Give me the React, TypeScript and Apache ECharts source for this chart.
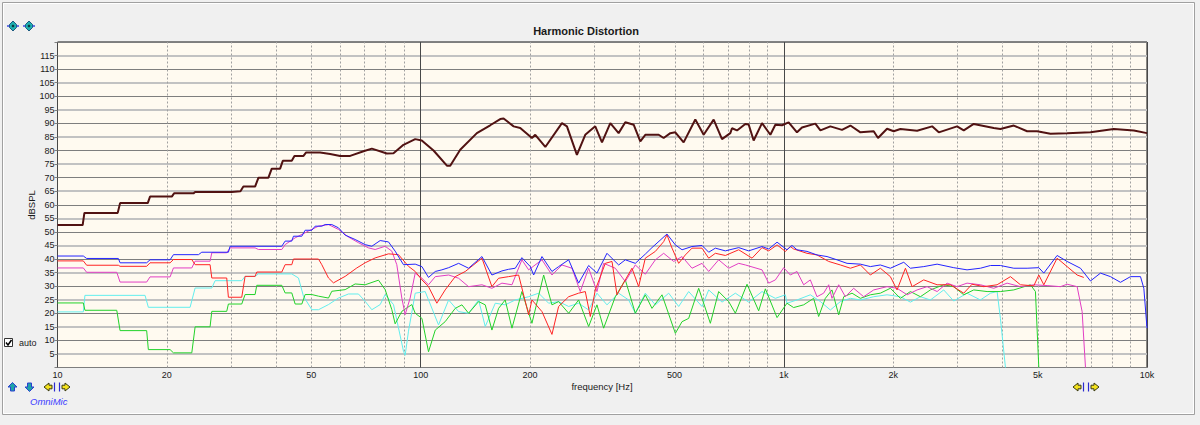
import React, { useEffect, useRef } from 'react';
import * as echarts from 'echarts';

const freqTicks = [10, 20, 50, 100, 200, 500, 1000, 2000, 5000, 10000];
const freqTickLabels = ['10', '20', '50', '100', '200', '500', '1k', '2k', '5k', '10k'];
const minorGridFreqs = [
  20, 30, 40, 50, 60, 70, 80, 90,
  200, 300, 400, 500, 600, 700, 800, 900,
  2000, 3000, 4000, 5000, 6000, 7000, 8000, 9000,
];

const fundamental: number[][] = [
  [10, 52.5], [11.73, 52.5], [11.86, 57], [14.65, 57], [14.87, 60.6], [17.72, 60.6], [17.98, 63], [20.64, 63],
  [20.94, 64.2], [23.68, 64.2], [23.93, 64.7], [30.19, 64.7], [31.9, 65], [32.5, 66.7], [35.0, 66.7], [35.76, 70],
  [38.09, 70], [38.9, 73.3], [41.02, 73.3], [41.72, 76.2], [44.17, 76.2], [44.92, 78], [47.57, 78], [48.38, 79.3],
  [52.87, 79.3], [56.33, 78.7], [60.02, 78], [63.95, 78], [69.6, 79.7], [73.38, 80.7], [80.69, 78.9], [84.17, 79],
  [89.68, 82.1], [96.58, 84.2], [100.7, 83.7], [108.5, 80], [118.1, 74.4], [120.6, 74.4], [128.5, 80.3], [142.8, 86.4],
  [155.4, 89.3], [165.6, 91.6], [169.2, 91.8], [180.3, 88.9], [188.0, 88.3], [202.5, 84.6], [206.8, 85.8], [220.4, 81.3],
  [244.9, 90.1], [252.8, 88.9], [269.3, 78.4], [283.9, 85.8], [302.5, 88.9], [315.7, 83], [332.8, 90.1], [350.8, 86.4],
  [366.0, 90.4], [385.9, 89.5], [402.5, 83.4], [415.5, 85.8], [452.2, 85.8], [466.7, 84.6], [486.9, 86.4], [502.6, 86.7],
  [529.8, 83], [570.5, 91.4], [601.5, 85.8], [640.9, 91.4], [675.7, 84.2], [712.3, 86.4], [719.9, 88.2], [743.1, 87.4],
  [783.4, 89.8], [800.1, 89.6], [825.9, 83.7], [870.8, 90.1], [918.1, 85.8], [947.7, 89.5], [988.6, 89.3], [1031, 90.4],
  [1087, 86.7], [1122, 88.5], [1221, 89.9], [1261, 87.4], [1343, 88.9], [1446, 87.6], [1525, 89.2], [1625, 86.7],
  [1768, 87.1], [1817, 84.6], [1924, 88], [2007, 87.1], [2094, 87.9], [2328, 87.3], [2560, 88.9], [2671, 86.7],
  [2999, 88.9], [3129, 87.4], [3334, 89.8], [3785, 88.3], [3948, 87.9], [4297, 89.2], [4676, 87.1], [4983, 87.1],
  [5423, 86.2], [6027, 86.4], [6988, 86.7], [8102, 87.9], [9198, 87.4], [10000, 86.4],
];

const harmonicBlue: number[][] = [
  [10, 41.1], [11.78, 41.1], [12.03, 40.2], [14.71, 40.2], [14.87, 38.6], [17.6, 38.6], [17.98, 39.7], [20.42, 39.7],
  [20.86, 41.6], [24.44, 41.6], [24.96, 42.5], [29.55, 42.5], [29.87, 44.7], [41.46, 44.7], [42.34, 46.6], [44.17, 46.6],
  [44.64, 48.4], [47.07, 48.4], [48.07, 50.6], [50.15, 50.6], [51.22, 52.1], [53.43, 52.1], [54.58, 52.7], [56.93, 52.7],
  [59.38, 51.5], [61.95, 48.8], [66.0, 47.2], [70.33, 45.3], [73.37, 44.7], [77.36, 46.8], [81.54, 46.3], [85.06, 42.9],
  [89.68, 37.9], [96.6, 38.1], [100.8, 37.2], [105.1, 33.2], [109.7, 35.4], [114.4, 36], [119.4, 36.8], [127.2, 38.4],
  [135.5, 36.6], [147.5, 40.9], [157.1, 34.1], [167.4, 35.6], [174.6, 36.2], [182.2, 36.6], [190.0, 40.5], [200.4, 37.2],
  [204.7, 34.1], [215.8, 40.9], [229.9, 35.4], [239.8, 37.2], [255.6, 39.7], [272.2, 31.1], [290.1, 37.6], [305.8, 34.8],
  [325.8, 42.1], [350.9, 37.8], [366.0, 39.7], [390.0, 38.4], [415.5, 41.8], [433.5, 44.2], [476.7, 49.2], [502.7, 45.2],
  [524.4, 43.4], [558.7, 44.6], [595.3, 45], [621.0, 42.5], [647.8, 44], [690.2, 43], [751.2, 44.2], [800.3, 43],
  [870.9, 44.6], [908.5, 43.7], [957.9, 46.2], [1020, 43.4], [1053, 45], [1087, 43.4], [1158, 42.8], [1234, 41.5],
  [1315, 40.9], [1401, 39.7], [1493, 38.4], [1625, 38.1], [1731, 37.2], [1844, 37.8], [1965, 36.6], [2139, 38.8],
  [2231, 36.6], [2428, 37.2], [2643, 38.1], [2937, 36.8], [3195, 36], [3478, 36.6], [3706, 37.6], [3948, 37.6],
  [4297, 36.6], [4676, 36.6], [5036, 36.8], [5198, 34.8], [5656, 41.3], [6027, 39.1], [6558, 36.6], [6988, 31.9],
  [7446, 34.8], [7933, 33.5], [8452, 31.4], [9005, 33.5], [9596, 33.5], [9801, 29.2], [10000, 14.5],
];

const harmonicRed: number[][] = [
  [10, 39.3], [11.78, 39.3], [12.03, 37.7], [14.71, 37.7], [14.87, 37.3], [17.6, 37.3], [17.98, 38.6], [20.42, 38.6],
  [20.86, 39.8], [23.43, 39.8], [23.93, 37.9], [26.31, 37.9], [26.6, 33.0], [29.24, 33.0], [29.55, 25.9], [32.16, 25.9],
  [32.85, 33.6], [35.0, 33.6], [35.38, 35.2], [41.46, 35.2], [42.34, 37.9], [44.17, 37.9], [44.64, 40.0], [52.31, 40.0],
  [53.43, 37.9], [55.74, 33.0], [57.53, 31.2], [61.95, 33.6], [66.71, 36.7], [70.33, 38.6], [74.94, 40.4], [81.54, 41.9],
  [86.88, 41.6], [92.57, 37.3], [96.6, 35.4], [100.8, 32.3], [105.1, 29.8], [110.8, 23.7], [116.8, 28.6], [124.5, 33.5],
  [132.7, 35.4], [147.5, 40.3], [157.1, 29.8], [163.9, 32.9], [174.6, 33.5], [186.1, 34.1], [198.3, 19.4], [202.5, 24.9],
  [215.8, 20.6], [229.9, 12.2], [239.8, 22.5], [255.6, 26.1], [272.2, 27.4], [284.0, 28], [293.2, 18.8], [302.6, 28.6],
  [322.4, 38.4], [336.4, 39.1], [347.2, 26.8], [366.0, 32.3], [381.8, 36.6], [398.3, 29.8], [415.5, 40.3], [442.8, 42.8],
  [466.8, 46.4], [476.7, 48.9], [492.2, 44], [513.4, 38.4], [535.6, 41.5], [558.7, 44], [595.3, 44], [621.0, 40.3],
  [647.8, 42.1], [690.2, 41.3], [751.2, 43.4], [817.4, 40.3], [870.9, 44.2], [908.5, 43], [957.9, 45.2], [1009.9, 42.8],
  [1042, 44.6], [1064, 43.7], [1158, 42.1], [1234, 41.5], [1329, 39.1], [1431, 37.8], [1525, 36.6], [1625, 37.8],
  [1731, 34.1], [1844, 36.6], [1965, 33.5], [2050, 28.6], [2162, 36.6], [2255, 29.8], [2428, 32.3], [2643, 30.5],
  [2875, 30.5], [3129, 27.4], [3298, 30.7], [3552, 29.8], [3866, 30.5], [4207, 33.5], [4483, 30.5], [4878, 30.1],
  [5036, 34.1], [5198, 30.5], [5656, 40.3], [6027, 37.2], [6421, 34.1], [6698, 33.2],
];

const harmonicMagenta: number[][] = [
  [10, 36.7], [11.78, 36.7], [12.03, 35.1], [14.56, 35.1], [14.87, 31.5], [17.6, 31.5], [17.98, 33.4], [20.42, 33.4],
  [20.86, 36.7], [23.43, 36.7], [23.93, 39.2], [26.31, 39.2], [26.6, 42.3], [29.24, 42.3], [29.87, 44.1], [35.0, 44.1],
  [35.75, 43.5], [41.46, 43.5], [42.34, 45.3], [45.12, 47.8], [49.1, 50.3], [52.31, 52.1], [55.74, 52.7], [59.38, 50.9],
  [63.27, 48.1], [67.41, 46.0], [71.84, 44.1], [74.94, 43.5], [79.84, 44.7], [83.29, 42.9], [85.96, 37.9], [88.74, 25.6],
  [90.63, 19.5], [93.55, 25.6], [96.6, 34.8], [100.8, 32.9], [105.1, 30.5], [109.7, 33.5], [119.4, 34.1], [127.2, 32.9],
  [135.5, 29.8], [147.5, 30.5], [157.1, 29.2], [167.4, 31.1], [178.4, 30.5], [190.0, 39.7], [198.3, 36], [215.8, 39.7],
  [229.9, 34.1], [245.0, 37.8], [261.0, 36.6], [275.1, 28], [290.1, 36.6], [305.8, 28], [319.0, 38.4], [343.5, 36.6],
  [366.0, 31.7], [390.0, 37.8], [415.5, 34.4], [442.8, 39.7], [466.8, 42.1], [497.4, 39.1], [524.4, 40.9], [558.7, 36.6],
  [595.3, 38.4], [621.0, 35.4], [661.6, 39.7], [705, 36.6], [751.2, 38.4], [783.6, 37.8], [870.9, 36], [908.5, 31.1],
  [947.8, 32.3], [999.2, 36.8], [1042, 34.1], [1087, 35.4], [1134, 30.5], [1183, 32.3], [1234, 26.1], [1287, 27.4],
  [1329, 30.5], [1357, 25.5], [1416, 30.5], [1477, 26.1], [1557, 29.2], [1659, 26.1], [1768, 28.6], [1924, 29.8],
  [2050, 29.2], [2185, 26.8], [2328, 28.6], [2480, 29.8], [2643, 28], [2815, 31.1], [2999, 29.8], [3195, 31.1],
  [3478, 30.5], [3785, 29.2], [4119, 31.1], [4483, 29.8], [4878, 30.5], [5309, 30.2], [5777, 29.8], [6027, 30.7],
  [6421, 29.8], [6628, 20.6], [6770, 0],
];

const harmonicGreen: number[][] = [
  [10, 23.8], [11.78, 23.8], [11.9, 21.1], [14.56, 21.1], [14.87, 13.6], [17.6, 13.6], [17.79, 6.6], [20.42, 6.6],
  [20.86, 5.4], [23.43, 5.4], [23.93, 15.0], [26.31, 15.0], [26.6, 20.7], [29.24, 20.7], [29.55, 23.4], [32.16, 23.4],
  [32.85, 26.9], [35.0, 26.9], [35.38, 30.3], [41.46, 30.3], [42.34, 27.5], [44.17, 27.5], [45.12, 23.4], [47.07, 23.4],
  [48.07, 26.9], [50.15, 26.9], [52.31, 26.3], [55.74, 25.6], [56.93, 28.1], [61.95, 28.7], [66.0, 30.8], [70.33, 30.5],
  [76.54, 32.2], [79.84, 28.7], [83.29, 21.3], [85.06, 16.1], [88.74, 20.7], [94.55, 23.2], [96.6, 20], [100.8, 18.1],
  [105.1, 5.8], [109.7, 13.8], [116.8, 16.9], [124.5, 21.8], [129.9, 23.1], [135.5, 20], [144.4, 24.3], [150.6, 23.1],
  [157.1, 13.8], [163.9, 21.8], [170.9, 24.9], [178.4, 14.5], [190.0, 28], [202.5, 16.3], [218.1, 34.1], [229.9, 23.1],
  [239.8, 24.3], [255.6, 20], [272.2, 24.9], [290.1, 15.1], [305.8, 23.1], [319.0, 14.5], [343.5, 26.1], [366.0, 32.3],
  [390.0, 20], [415.5, 26.8], [433.5, 21.8], [461.9, 26.8], [502.7, 12.6], [524.4, 16.9], [547.0, 18.1], [582.8, 29.2],
  [627.6, 16.3], [661.6, 28], [705, 24.3], [735.4, 20], [791.9, 30.7], [852.6, 20.9], [889.5, 29], [957.9, 18.4],
  [1020, 23.7], [1064, 22.1], [1134, 23.1], [1208, 25.5], [1247, 18.8], [1301, 25.5], [1357, 28.6], [1416, 19.4],
  [1462, 26.1], [1541, 27.4], [1625, 25.5], [1731, 26.8], [1844, 27.4], [1965, 29.2], [2094, 25.5], [2231, 28],
  [2377, 26.1], [2533, 28.6], [2756, 30.5], [2937, 29.8], [3129, 26.8], [3334, 28.6], [3628, 28], [3948, 28],
  [4297, 28.6], [4776, 30.5], [4930, 28], [5036, 0],
];

const harmonicCyan: number[][] = [
  [10, 20.5], [11.78, 20.5], [11.9, 26.6], [17.42, 26.6], [17.79, 22.2], [23.18, 22.2], [23.93, 29.3], [26.6, 29.3],
  [27.16, 32.0], [32.16, 32.0], [32.85, 33.6], [35.0, 33.6], [35.75, 34.5], [44.17, 34.5], [46.08, 33.0], [47.56, 26.3],
  [50.15, 21.3], [52.31, 21.3], [55.74, 23.2], [59.38, 25.6], [63.27, 27.1], [67.41, 27.1], [70.33, 24.4], [73.37, 21.3],
  [77.36, 23.2], [79.84, 26.9], [84.17, 23.2], [86.88, 14.6], [89.68, 6.0], [90.63, 4.5], [92.57, 13.4], [96.6, 27.4],
  [102.9, 28], [112.0, 15.7], [119.4, 24.9], [127.2, 20.6], [135.5, 20], [144.4, 24.9], [150.6, 15.1], [160.5, 23.7],
  [170.9, 23.1], [182.2, 24.9], [198.3, 26.1], [211.3, 27.4], [225.1, 23.7], [239.8, 24.3], [255.6, 22.5], [272.2, 23.7],
  [290.1, 21.2], [305.8, 27.4], [325.8, 23.1], [350.9, 27.4], [373.8, 24.9], [390.0, 20], [415.5, 27.4], [442.8, 23.1],
  [481.9, 27.4], [513.4, 22.5], [547.0, 28], [595.3, 22.5], [621.0, 28.6], [675.8, 24.1], [735.4, 27.4], [800.3, 24.1],
  [870.9, 28], [947.8, 25.5], [1009.9, 26.8], [1020, 23.7], [1087, 24.9], [1183, 26.8], [1261, 24.3], [1343, 21.2],
  [1431, 24.3], [1525, 25.5], [1625, 24.9], [1768, 26.1], [1924, 26.8], [2094, 26.1], [2231, 24.1], [2377, 26.1],
  [2533, 24.9], [2756, 28.6], [2937, 24.5], [3195, 27.4], [3478, 24.9], [3706, 27.4], [3866, 28], [3948, 18.1],
  [4076, 0],
];

const FONT = '"Liberation Sans", Arial, Helvetica, sans-serif';

function upArrow(cx: number, cy: number, dir: number) {
  const d = dir;
  return {
    type: 'polygon',
    silent: true,
    shape: {
      points: [
        [cx, cy - 4.5 * d], [cx + 4.5, cy], [cx + 2, cy], [cx + 2, cy + 4 * d],
        [cx - 2, cy + 4 * d], [cx - 2, cy], [cx - 4.5, cy],
      ],
    },
    style: { fill: '#1fa3a8', stroke: '#2a3fd0', lineWidth: 1 },
  };
}

function sideArrow(cx: number, cy: number, dir: number) {
  const tip = cx + 3 * dir;
  const back = cx - 3 * dir;
  const head = cx;
  const barX = cx - 5.5 * dir;
  return {
    type: 'group',
    silent: true,
    children: [
      {
        type: 'polygon',
        shape: {
          points: [
            [tip + 2 * dir, cy], [head, cy - 4], [head, cy - 1.8], [back, cy - 1.8],
            [back, cy + 1.8], [head, cy + 1.8], [head, cy + 4],
          ],
        },
        style: { fill: '#f4e21c', stroke: '#3a3a10', lineWidth: 1 },
      },
      {
        type: 'line',
        shape: { x1: barX, y1: cy - 4.5, x2: barX, y2: cy + 4.5 },
        style: { stroke: '#2a2ad0', lineWidth: 1.2 },
      },
    ],
  };
}

function topIcon(cx: number, cy: number) {
  return {
    type: 'group',
    silent: true,
    children: [
      { type: 'line', shape: { x1: cx - 6, y1: cy, x2: cx + 6, y2: cy }, style: { stroke: '#3a4ae0', lineWidth: 1 } },
      { type: 'polygon', shape: { points: [[cx, cy - 5], [cx + 3.5, cy - 1.5], [cx + 3.5, cy + 1.5], [cx, cy + 5], [cx - 3.5, cy + 1.5], [cx - 3.5, cy - 1.5]] }, style: { fill: '#1fb0b0', stroke: '#1b5a80', lineWidth: 1 } },
      { type: 'line', shape: { x1: cx - 6, y1: cy, x2: cx - 3.5, y2: cy }, style: { stroke: '#3a4ae0', lineWidth: 1 } },
      { type: 'line', shape: { x1: cx + 3.5, y1: cy, x2: cx + 6, y2: cy }, style: { stroke: '#3a4ae0', lineWidth: 1 } },
      { type: 'circle', shape: { cx, cy, r: 1.3 }, style: { fill: '#0c3a40' } },
    ],
  };
}

export default function App() {
  const ref = useRef<HTMLDivElement>(null);

  useEffect(() => {
    if (!ref.current) return;
    const chart = echarts.init(ref.current, null, { renderer: 'svg' });

    const lineSeries = (name: string, data: number[][], color: string, width: number, z: number) => ({
      type: 'line',
      name,
      data,
      showSymbol: false,
      symbol: 'none',
      silent: true,
      clip: true,
      z,
      lineStyle: { color, width },
      itemStyle: { color },
    });

    const option: any = {
      animation: false,
      backgroundColor: '#f0f0f0',
      grid: {
        left: 57.5,
        top: 42,
        right: 53,
        bottom: 57.5,
        show: true,
        backgroundColor: '#fffaf0',
        borderColor: '#141414',
        borderWidth: 1,
        containLabel: false,
      },
      xAxis: {
        type: 'log',
        logBase: 10,
        min: 10,
        max: 10000,
        axisLine: { show: false },
        axisTick: { show: false },
        axisLabel: { show: false },
        splitLine: { show: true, lineStyle: { color: '#484848', width: 1 } },
      },
      yAxis: [
        {
          type: 'value',
          min: 0,
          max: 120,
          interval: 5,
          axisLine: { show: false },
          axisTick: { show: true, length: 3, lineStyle: { color: '#808080' } },
          axisLabel: {
            margin: 3,
            fontSize: 9,
            fontFamily: FONT,
            color: '#1a1a1a',
            formatter: (v: number) => (v <= 0 || v >= 120 ? '' : String(v)),
          },
          splitLine: { show: true, lineStyle: { color: ['rgba(0,0,0,0)', '#c2c2c2'], width: 2 } },
        },
        {
          type: 'value',
          min: 0,
          max: 120,
          interval: 10,
          position: 'left',
          axisLine: { show: false },
          axisTick: { show: false },
          axisLabel: { show: false },
          splitLine: { show: true, lineStyle: { color: '#7e7e7e', width: 1 } },
        },
      ],
      series: [
        {
          type: 'custom',
          name: 'minorGrid',
          coordinateSystem: 'cartesian2d',
          silent: true,
          z: 1,
          data: minorGridFreqs.map((f) => [f, 0]),
          renderItem: (_p: any, api: any) => {
            const f = api.value(0);
            const a = api.coord([f, 0]);
            const b = api.coord([f, 120]);
            const x = Math.round(a[0]) + 0.5;
            return {
              type: 'line',
              shape: { x1: x, y1: a[1], x2: x, y2: b[1] },
              style: { stroke: '#a0a0a0', lineWidth: 1, lineDash: [2, 2] },
            };
          },
        },
        {
          type: 'custom',
          name: 'freqLabels',
          coordinateSystem: 'cartesian2d',
          silent: true,
          clip: false,
          z: 5,
          data: freqTicks.map((f, i) => [f, 0, i]),
          renderItem: (_p: any, api: any) => {
            const p = api.coord([api.value(0), 0]);
            const i = api.value(2);
            return {
              type: 'text',
              x: p[0],
              y: p[1] + 7,
              style: {
                text: freqTickLabels[i],
                fill: '#1a1a1a',
                fontSize: 9,
                fontFamily: FONT,
                align: 'center',
                verticalAlign: 'middle',
              },
            };
          },
        },
        lineSeries('Cyan', harmonicCyan, '#62eeee', 1, 3),
        lineSeries('Green', harmonicGreen, '#22d22a', 1, 3),
        lineSeries('Magenta', harmonicMagenta, '#e23ec4', 1, 3),
        lineSeries('Red', harmonicRed, '#ff2424', 1, 3),
        lineSeries('Blue', harmonicBlue, '#2424ff', 1, 3),
        lineSeries('Fundamental', fundamental, '#511212', 2, 4),
      ],
      graphic: [
        { type: 'rect', silent: true, z: -10, shape: { x: 2.5, y: 2.5, width: 1192, height: 412 }, style: { fill: 'none', stroke: '#a0a0a0', lineWidth: 1 } },
        { type: 'rect', silent: true, z: -10, shape: { x: 3.5, y: 3.5, width: 1190, height: 410 }, style: { fill: 'none', stroke: '#ffffff', lineWidth: 1 } },
        {
          type: 'text', silent: true, x: 586, y: 31,
          style: { text: 'Harmonic Distortion', fill: '#1a1a1a', fontSize: 11, fontWeight: 'bold', fontFamily: FONT, align: 'center', verticalAlign: 'middle' },
        },
        {
          type: 'text', silent: true, x: 31.5, y: 205, rotation: Math.PI / 2,
          style: { text: 'dBSPL', fill: '#1a1a1a', fontSize: 9.5, fontFamily: FONT, align: 'center', verticalAlign: 'middle' },
        },
        {
          type: 'text', silent: true, x: 602, y: 386,
          style: { text: 'frequency [Hz]', fill: '#1a1a1a', fontSize: 9.5, fontFamily: FONT, align: 'center', verticalAlign: 'middle' },
        },
        { type: 'rect', silent: true, shape: { x: 4.5, y: 338.5, width: 8, height: 8 }, style: { fill: '#ffffff', stroke: '#333333', lineWidth: 1 } },
        { type: 'polyline', silent: true, shape: { points: [[6, 342.5], [8, 345], [11.5, 340]] }, style: { stroke: '#000000', lineWidth: 1.5, fill: 'none' } },
        {
          type: 'text', silent: true, x: 19, y: 343,
          style: { text: 'auto', fill: '#1a1a1a', fontSize: 9, fontFamily: FONT, align: 'left', verticalAlign: 'middle' },
        },
        {
          type: 'text', silent: true, x: 30, y: 401.5,
          style: { text: 'OmniMic', fill: '#3b3bff', fontSize: 9.5, fontStyle: 'italic', fontFamily: FONT, align: 'left', verticalAlign: 'middle' },
        },
        topIcon(13, 26),
        topIcon(29, 26),
        upArrow(12.5, 387, 1),
        upArrow(29.5, 387, -1),
        sideArrow(49, 387, -1),
        sideArrow(65, 387, 1),
        sideArrow(1078, 387, -1),
        sideArrow(1094, 387, 1),
      ],
    };

    chart.setOption(option);
    return () => {
      chart.dispose();
    };
  }, []);

  return (
    <div
      ref={ref}
      style={{ position: 'absolute', left: 0, top: 0, width: 1200, height: 425 }}
    />
  );
}
